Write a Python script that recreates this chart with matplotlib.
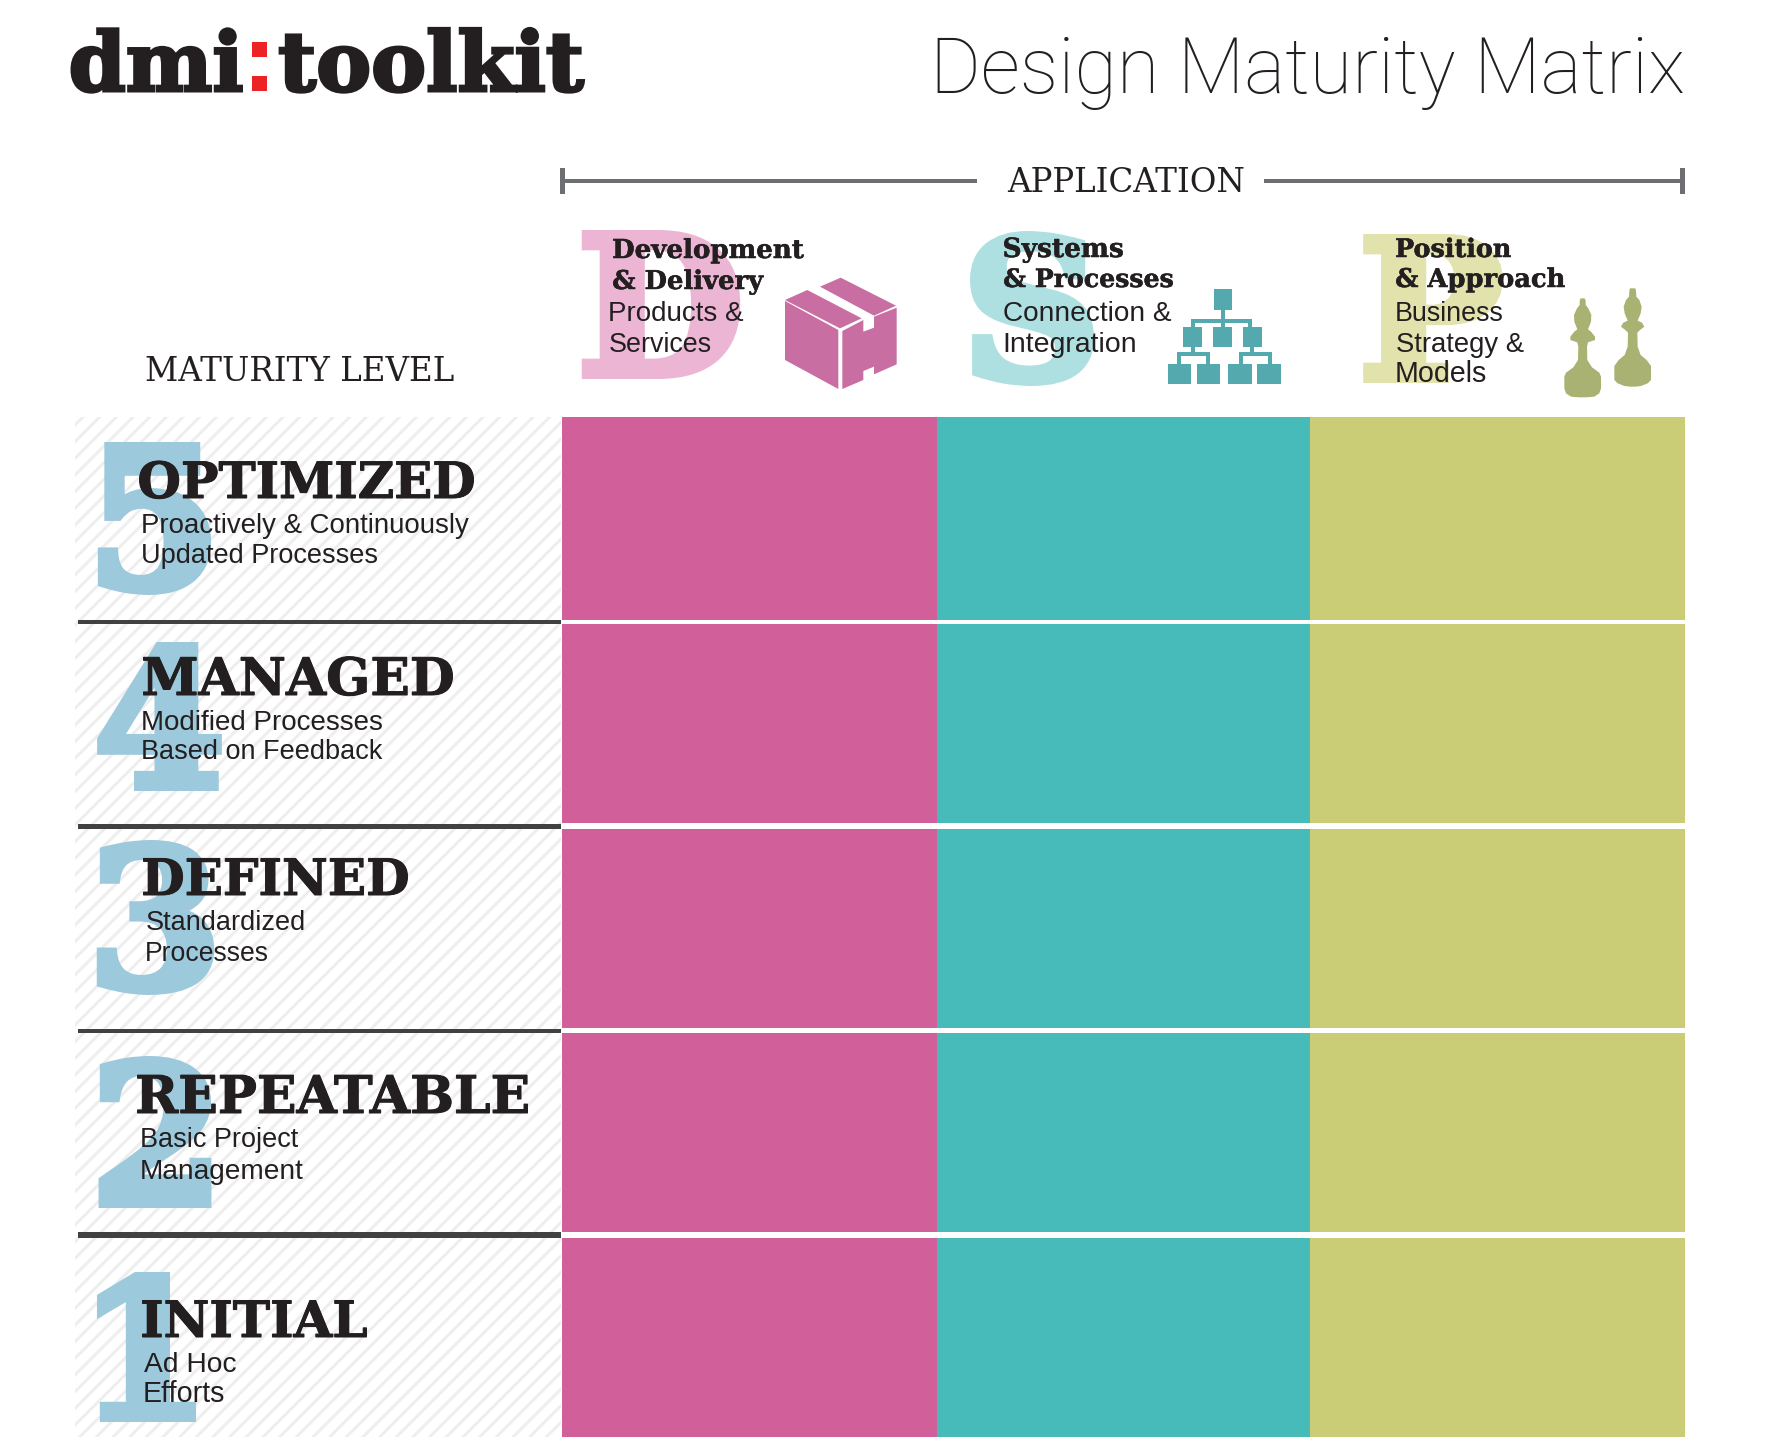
import matplotlib
matplotlib.use("Agg")
import matplotlib.pyplot as plt
import matplotlib.patheffects as pe
from matplotlib.font_manager import FontProperties
from matplotlib.textpath import TextPath
from matplotlib.patches import Polygon, Rectangle

plt.rcParams['hatch.linewidth'] = 2.1

# --- content ---
title = "Design Maturity Matrix"
logo_left, logo_colon, logo_right = "dmi", ":", "toolkit"
axis_top = "APPLICATION"
axis_left = "MATURITY LEVEL"
level_numbers = ["5", "4", "3", "2", "1"]
level_names = ["OPTIMIZED", "MANAGED", "DEFINED", "REPEATABLE", "INITIAL"]
level_line1 = ["Proactively & Continuously", "Modified Processes", "Standardized", "Basic Project", "Ad Hoc"]
level_line2 = ["Updated Processes", "Based on Feedback", "Processes", "Management", "Efforts"]
column_letters = ["D", "S", "P"]

# --- layout (pixels of the 1768x1450 canvas) ---
col_edges = [562, 937, 1310, 1685]
col_colors = ["#d15f9a", "#47bbb9", "#cacd76"]
row_tops = [417, 624, 829, 1033, 1238]
row_bots = [620, 823, 1028, 1232, 1437]
rule_tops = [620, 824, 1029, 1232]
rule_bots = [624, 829, 1033, 1238]

INK = "#231f20"
SERIF = "DejaVu Serif"
SANS = "Liberation Sans"
THIN = "Roboto"

fig = plt.figure(figsize=(17.68, 14.5), dpi=100, facecolor="white")
ax = fig.add_axes([0, 0, 1, 1])
ax.set_xlim(0, 1768)
ax.set_ylim(1450, 0)
ax.axis("off")


def outline(t, thick, color):
    if thick:
        t.set_path_effects([pe.withStroke(linewidth=thick * 0.72, foreground=color, joinstyle="miter")])


def put(s, x0, x1, base, family=SERIF, weight="normal", color=INK, z=5, thick=0):
    """Real text, sized so its ink spans x0..x1, baseline at base. thick = extra outline in px."""
    fp = FontProperties(family=family, weight=weight)
    e = TextPath((0, 0), s, size=1, prop=fp).get_extents()
    px = (x1 - x0 - thick) / e.width
    t = ax.text(x0 + thick / 2 - e.x0 * px, base, s, fontproperties=fp, fontsize=px * 0.72,
                color=color, ha="left", va="baseline", zorder=z)
    outline(t, thick, color)


def glyph(s, x0, x1, y0, y1, color, family=SERIF, weight="bold", z=2, thick=9):
    """Real text, sized so its ink spans y0..y1, centred on x0..x1."""
    fp = FontProperties(family=family, weight=weight)
    e = TextPath((0, 0), s, size=1, prop=fp).get_extents()
    px = (y1 - y0 - thick) / e.height
    xc = (x0 + x1) / 2 - (e.x0 + e.width / 2) * px
    t = ax.text(xc, y1 - thick / 2 + e.y0 * px, s, fontproperties=fp, fontsize=px * 0.72,
                color=color, ha="left", va="baseline", zorder=z)
    outline(t, thick, color)


# --- header ---
put(logo_left, 70.5, 243, 91, weight="bold", thick=3)
glyph(logo_colon, 251.5, 268, 42, 91, "#ed2224", family="Liberation Sans", z=5, thick=2)
put(logo_right, 278.6, 585, 91, weight="bold", thick=3)
put(title, 938, 1683, 93, family=THIN, weight=100)

GRAY = "#6d6e71"
ax.add_patch(Rectangle((560, 168), 5, 26, fc=GRAY, lw=0))
ax.add_patch(Rectangle((1680, 168), 5, 26, fc=GRAY, lw=0))
ax.add_patch(Rectangle((562, 179), 415, 4, fc=GRAY, lw=0))
ax.add_patch(Rectangle((1264, 179), 420, 4, fc=GRAY, lw=0))
put(axis_top, 1007, 1244, 192)
put(axis_left, 147, 454, 381)

# --- column heads ---
glyph(column_letters[0], 583, 739, 230, 379, "#ebb5d3")
glyph(column_letters[1], 974, 1090, 231, 386, "#aee0e1")
glyph(column_letters[2], 1367, 1499, 234, 383, "#e1e2ac")

put("Development", 613, 804, 258, weight="bold", thick=0.5)
put("& Delivery", 613, 764, 289, weight="bold", thick=0.5)
put("Products &", 610, 743, 321, family=SANS)
put("Services", 610, 711, 352, family=SANS)

put("Systems", 1004, 1123, 257, weight="bold", thick=0.5)
put("& Processes", 1004, 1173, 287, weight="bold", thick=0.5)
put("Connection &", 1004, 1170, 321, family=SANS)
put("Integration", 1005, 1135, 352, family=SANS)

put("Position", 1396, 1511, 257, weight="bold", thick=0.5)
put("& Approach", 1396, 1565, 287, weight="bold", thick=0.5)
put("Business", 1397, 1503, 321, family=SANS)
put("Strategy &", 1397, 1524, 352, family=SANS)
put("Models", 1397, 1486, 382, family=SANS)


# --- icons ---
def poly(pts, color, ox, oy, k=3.0):
    ax.add_patch(Polygon([(ox + x / k, oy + y / k) for x, y in pts], closed=True, fc=color, lw=0, zorder=4))


BOX = "#c86ea3"
poly([(45, 108), (205, 195), (205, 372), (45, 285)], BOX, 770, 265)
poly([(217, 198), (280, 165), (280, 200), (312, 188), (312, 155), (380, 128), (380, 298),
      (312, 328), (312, 305), (280, 318), (280, 345), (217, 372)], BOX, 770, 265)
poly([(45, 105), (112, 75), (275, 160), (210, 190)], BOX, 770, 265)
poly([(150, 65), (212, 38), (378, 122), (312, 152)], BOX, 770, 265)

ORG = "#53a9ad"
org_boxes = [(1214, 289, 1232, 310), (1183, 327, 1202, 347), (1213, 327, 1232, 347), (1243, 327, 1262, 347),
             (1168, 364, 1191, 384), (1197, 364, 1220, 384), (1228, 364, 1252, 384), (1257, 364, 1281, 384),
             # connectors
             (1221, 310, 1225, 327), (1191, 319, 1252, 323), (1191, 319, 1195, 327), (1248, 319, 1252, 327),
             (1191, 347, 1195, 356), (1177, 352, 1210, 356), (1177, 352, 1181, 364), (1206, 352, 1210, 364),
             (1250, 347, 1254, 356), (1239, 352, 1272, 356), (1239, 352, 1243, 364), (1268, 352, 1272, 364)]
for a, b, c, d in org_boxes:
    ax.add_patch(Rectangle((a, b), c - a, d - b, fc=ORG, lw=0, zorder=4))

CHESS = "#a9b272"


def piece(axis, profile):
    pts = [(axis + h, y) for y, h in profile] + [(axis - h, y) for y, h in reversed(profile)]
    poly(pts, CHESS, 1555, 280)


piece(83, [(55, 6), (62, 9), (75, 9), (85, 17), (105, 26), (125, 25), (148, 16), (155, 25), (170, 37), (180, 37),
           (187, 16), (200, 13), (240, 14), (262, 28), (278, 50), (290, 55), (325, 55), (340, 50), (350, 35), (352, 10)])
piece(233, [(25, 8), (32, 10), (50, 11), (60, 20), (80, 27), (100, 24), (122, 15), (128, 28), (140, 35), (150, 22),
            (158, 14), (200, 15), (225, 24), (240, 42), (258, 55), (300, 55), (310, 45), (318, 25), (320, 8)])

# --- matrix cells ---
for j, color in enumerate(col_colors):
    ax.bar([col_edges[j]] * len(row_tops), [b - t for t, b in zip(row_tops, row_bots)], bottom=row_tops,
           width=col_edges[j + 1] - col_edges[j], align="edge", color=color, linewidth=0, zorder=1)

# --- row label panel ---
ax.add_patch(Rectangle((75, 417), 486, 1020, facecolor="white", edgecolor="#eeeeee", hatch="//", lw=0, zorder=0))
ax.bar([78] * 4, [b - t for t, b in zip(rule_tops, rule_bots)], bottom=rule_tops, width=483, align="edge",
       color="#414042", linewidth=0, zorder=3)

NUM = "#9dc9dc"
num_boxes = [(102, 207, 442, 595), (102, 217, 642, 791), (102, 209, 840, 995), (102, 208, 1056, 1208), (104, 189, 1272, 1422)]
name_pos = [(139, 474, 498), (143, 453, 695), (143, 408, 895), (137, 528, 1113), (142, 367, 1337)]
line1_pos = [(143, 470, 533), (143, 382, 730), (147, 304, 930), (142, 298, 1147), (144, 236, 1372)]
line2_pos = [(143, 377, 563), (143, 382, 759), (147, 268, 961), (142, 303, 1179), (145, 224, 1402)]
for i in range(5):
    x0, x1, y0, y1 = num_boxes[i]
    glyph(level_numbers[i], x0, x1, y0, y1, NUM)
    put(level_names[i], *name_pos[i], weight="bold", thick=1)
    put(level_line1[i], *line1_pos[i], family=SANS)
    put(level_line2[i], *line2_pos[i], family=SANS)

fig.savefig("out.png", dpi=100, facecolor="white")
